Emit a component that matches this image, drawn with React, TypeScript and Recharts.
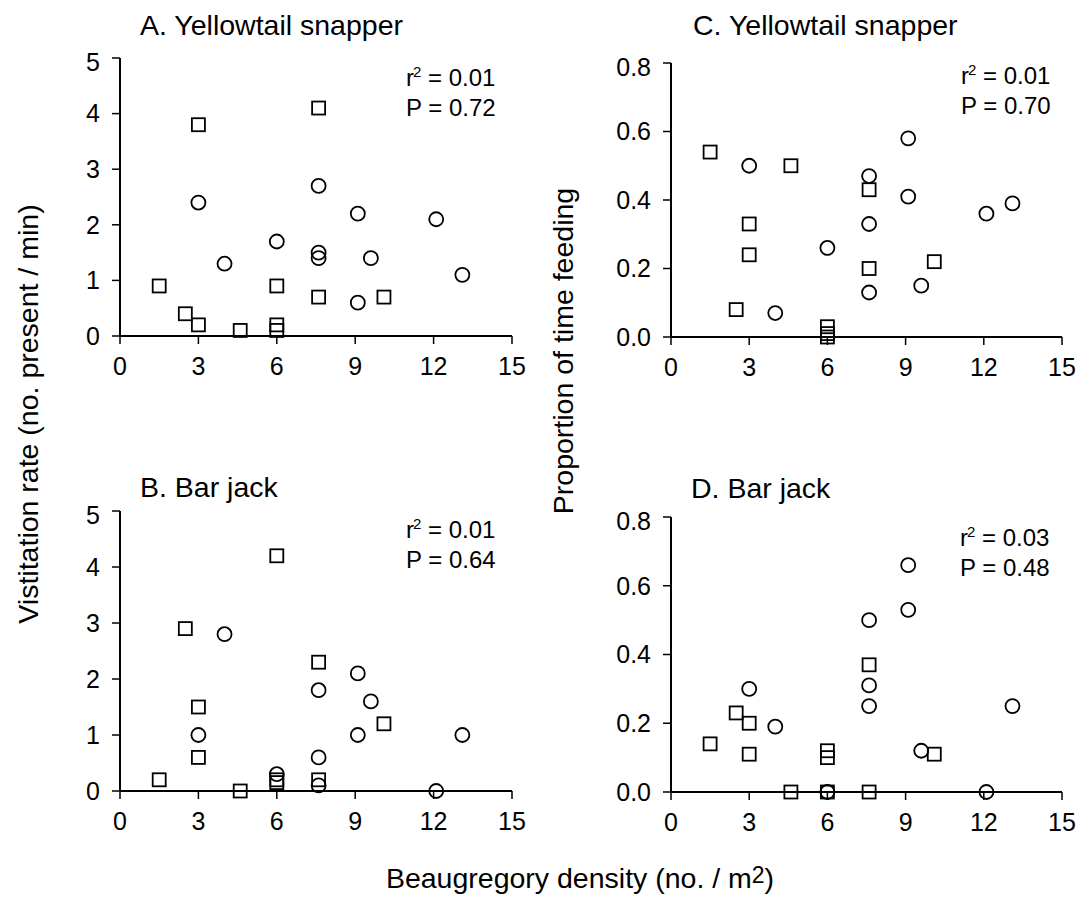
import React from 'react';
import { ScatterChart, Scatter, XAxis, YAxis } from 'recharts';

// density (no. / m2) vs response, squares and circles are the two site groups
const aSquares = [[1.5, 0.9], [2.5, 0.4], [3, 0.2], [3, 3.8], [4.6, 0.1], [6, 0.9], [6, 0.2], [6, 0.1], [7.6, 4.1], [7.6, 0.7], [10.1, 0.7]];
const aCircles = [[3, 2.4], [4, 1.3], [6, 1.7], [7.6, 2.7], [7.6, 1.5], [7.6, 1.4], [9.1, 2.2], [9.1, 0.6], [9.6, 1.4], [12.1, 2.1], [13.1, 1.1]];

const bSquares = [[1.5, 0.2], [2.5, 2.9], [3, 1.5], [3, 0.6], [4.6, 0], [6, 4.2], [6, 0.2], [6, 0.15], [7.6, 2.3], [7.6, 0.2], [10.1, 1.2]];
const bCircles = [[3, 1.0], [4, 2.8], [6, 0.3], [7.6, 1.8], [7.6, 0.6], [7.6, 0.1], [9.1, 2.1], [9.1, 1.0], [9.6, 1.6], [12.1, 0], [13.1, 1.0]];

const cSquares = [[1.5, 0.54], [2.5, 0.08], [3, 0.33], [3, 0.24], [4.6, 0.5], [6, 0.03], [6, 0], [6, 0.01], [7.6, 0.43], [7.6, 0.2], [10.1, 0.22]];
const cCircles = [[3, 0.5], [4, 0.07], [6, 0.26], [7.6, 0.47], [7.6, 0.33], [7.6, 0.13], [9.1, 0.58], [9.1, 0.41], [9.6, 0.15], [12.1, 0.36], [13.1, 0.39]];

const dSquares = [[1.5, 0.14], [2.5, 0.23], [3, 0.2], [3, 0.11], [4.6, 0], [6, 0.12], [6, 0.1], [6, 0], [7.6, 0.37], [7.6, 0], [10.1, 0.11]];
const dCircles = [[3, 0.3], [4, 0.19], [6, 0], [7.6, 0.5], [7.6, 0.31], [7.6, 0.25], [9.1, 0.66], [9.1, 0.53], [9.6, 0.12], [12.1, 0], [13.1, 0.25]];

const xTicks = [0, 3, 6, 9, 12, 15];
const rateTicks = [0, 1, 2, 3, 4, 5];
const propTicks = [0, 0.2, 0.4, 0.6, 0.8];

const font = '"Liberation Sans", Arial, sans-serif';
const bigText = 28.5;

const toPts = (arr: number[][]) => arr.map(([x, y]) => ({ x, y }));

const Square = (p: any) => (
	<rect x={p.cx - 6.5} y={p.cy - 6.5} width={13} height={13} fill="none" stroke="#000" strokeWidth={1.8} />
);
const Ring = (p: any) => (
	<circle cx={p.cx} cy={p.cy} r={7} fill="none" stroke="#000" strokeWidth={1.8} />
);

function Panel({ left, top, w, h, ticks, fmt, squares, circles }: any) {
	const yMax = ticks[ticks.length - 1];
	return (
		<div style={{ position: 'absolute', left: left - 80, top: top - 10 }}>
			<ScatterChart width={w + 95} height={h + 65} margin={{ top: 10, right: 15, left: 20, bottom: 5 }}>
				<XAxis
					type="number"
					dataKey="x"
					domain={[0, 15]}
					ticks={xTicks}
					height={50}
					tickSize={8}
					tickMargin={13}
					axisLine={{ stroke: '#000', strokeWidth: 2 }}
					tickLine={{ stroke: '#000', strokeWidth: 1.5 }}
					tick={{ fill: '#000', fontSize: 25, fontFamily: font }}
				/>
				<YAxis
					type="number"
					dataKey="y"
					domain={[0, yMax]}
					ticks={ticks}
					tickFormatter={fmt}
					width={60}
					tickSize={8}
					tickMargin={12}
					axisLine={{ stroke: '#000', strokeWidth: 2 }}
					tickLine={{ stroke: '#000', strokeWidth: 1.5 }}
					tick={{ fill: '#000', fontSize: 25, fontFamily: font }}
				/>
				<Scatter data={toPts(squares)} shape={Square} isAnimationActive={false} />
				<Scatter data={toPts(circles)} shape={Ring} isAnimationActive={false} />
			</ScatterChart>
		</div>
	);
}

const Title = ({ x, y, children }: any) => (
	<div style={{ position: 'absolute', left: x, top: y, fontSize: bigText, lineHeight: bigText + 'px', whiteSpace: 'nowrap' }}>{children}</div>
);

const Stats = ({ x, y, r2, p }: any) => (
	<div style={{ position: 'absolute', left: x, top: y, fontSize: 24, lineHeight: '27px', whiteSpace: 'nowrap' }}>
		<div>r<span style={{ fontSize: 15, position: 'relative', top: -9, marginLeft: -1 }}>2</span> = {r2}</div>
		<div>P = {p}</div>
	</div>
);

export default function App() {
	const intFmt = (v: number) => String(v);
	const decFmt = (v: number) => v.toFixed(1);
	return (
		<div style={{ position: 'absolute', left: 0, top: 0, width: 1078, height: 901, background: '#fff', fontFamily: font, color: '#000', overflow: 'hidden' }}>
			<Panel left={120} top={58} w={392} h={278} ticks={rateTicks} fmt={intFmt} squares={aSquares} circles={aCircles} />
			<Panel left={120} top={511} w={392} h={280} ticks={rateTicks} fmt={intFmt} squares={bSquares} circles={bCircles} />
			<Panel left={671} top={63} w={391} h={274} ticks={propTicks} fmt={decFmt} squares={cSquares} circles={cCircles} />
			<Panel left={671} top={517} w={391} h={275} ticks={propTicks} fmt={decFmt} squares={dSquares} circles={dCircles} />

			<Title x={140} y={11}>A. Yellowtail snapper</Title>
			<Title x={693} y={11}>C. Yellowtail snapper</Title>
			<Title x={140} y={473}>B. Bar jack</Title>
			<Title x={691} y={474}>D. Bar jack</Title>

			<Stats x={406} y={64} r2="0.01" p="0.72" />
			<Stats x={961} y={62} r2="0.01" p="0.70" />
			<Stats x={406} y={516} r2="0.01" p="0.64" />
			<Stats x={960} y={524} r2="0.03" p="0.48" />

			<div style={{ position: 'absolute', left: 28, top: 414, transform: 'translate(-50%, -50%) rotate(-90deg)', fontSize: bigText, whiteSpace: 'nowrap' }}>
				Vistitation rate (no. present / min)
			</div>
			<div style={{ position: 'absolute', left: 563, top: 351, transform: 'translate(-50%, -50%) rotate(-90deg)', fontSize: bigText, whiteSpace: 'nowrap' }}>
				Proportion of time feeding
			</div>
			<div style={{ position: 'absolute', left: 580, top: 878, transform: 'translate(-50%, -50%)', fontSize: bigText, whiteSpace: 'nowrap' }}>
				Beaugregory density (no. / m<span style={{ fontSize: 23, position: 'relative', top: -5 }}>2</span>)
			</div>
		</div>
	);
}
